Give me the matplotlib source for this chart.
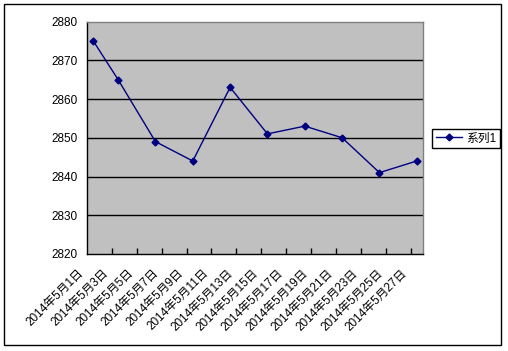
import matplotlib
matplotlib.use("Agg")
import matplotlib.pyplot as plt
import matplotlib.transforms as mtransforms
from matplotlib.patches import Rectangle

plt.rcParams['font.family'] = ['Liberation Sans', 'Noto Sans CJK SC', 'DejaVu Sans']

# data (day of May 2014 -> value)
days = [1, 3, 6, 9, 12, 15, 18, 21, 24, 27]
values = [2875, 2865, 2849, 2844, 2863, 2851, 2853, 2850, 2841, 2844]
series_name = '系列1'

label_days = [1, 3, 5, 7, 9, 11, 13, 15, 17, 19, 21, 23, 25, 27]
tick_labels = ['2014年5月1日', '2014年5月3日', '2014年5月5日', '2014年5月7日',
               '2014年5月9日', '2014年5月11日', '2014年5月13日', '2014年5月15日',
               '2014年5月17日', '2014年5月19日', '2014年5月21日', '2014年5月23日',
               '2014年5月25日', '2014年5月27日']
y_ticks = [2820, 2830, 2840, 2850, 2860, 2870, 2880]

W, H = 508, 351
fig = plt.figure(figsize=(W / 100, H / 100), dpi=100)
ax = fig.add_axes([87 / W, 97 / H, 336 / W, 232.5 / H])
ax.set_facecolor('#c0c0c0')

ax.plot(days, values, color='#000080', lw=1, marker='D', ms=3.5,
        mfc='#000080', mec='#000080', label=series_name, zorder=3)

ax.set_xlim(0.5, 27.5)
ax.set_ylim(2820, 2880)
ax.set_yticks(y_ticks)
for y in y_ticks[1:-1]:
    ax.axhline(y, color='black', lw=1, zorder=1)

# labels every 2 days, small tick marks between them
ax.set_xticks(label_days)
ax.set_xticklabels(tick_labels, rotation=45, ha='right', va='top', fontsize=8.5)
ax.set_xticks([d + 1.5 for d in label_days[:-1]], minor=True)
ax.tick_params(axis='x', which='major', length=0, pad=9.5)
ax.tick_params(axis='x', which='minor', length=4, width=1, direction='in', color='black')
ax.tick_params(axis='y', length=0, pad=7, labelsize=8.5)

offset = mtransforms.ScaledTranslation(-7 / 100, 0, fig.dpi_scale_trans)
for lab in ax.get_xticklabels():
    lab.set_transform(lab.get_transform() + offset)

for side in ['left', 'bottom']:
    ax.spines[side].set_color('black')
    ax.spines[side].set_linewidth(1)
for side in ['top', 'right']:
    ax.spines[side].set_color('#808080')
    ax.spines[side].set_linewidth(1)

leg = fig.legend(loc='upper left', bbox_to_anchor=(432 / W, 1 - 129 / H),
                 borderaxespad=0, fontsize=8.5, fancybox=False, framealpha=1,
                 edgecolor='black', handlelength=2.2, handletextpad=0.4,
                 borderpad=0.3)
leg.get_frame().set_linewidth(1)

# outer chart border
fig.patches.append(Rectangle((4 / W, 6 / H), 497 / W, 341 / H, transform=fig.transFigure,
                             fill=False, edgecolor='black', lw=1))

fig.savefig('out.png', dpi=100)
